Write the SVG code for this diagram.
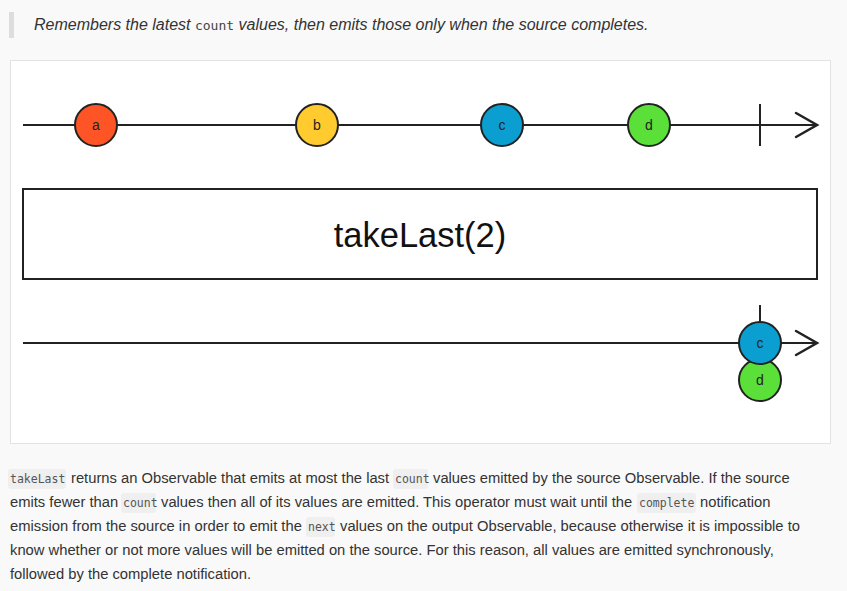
<svg xmlns="http://www.w3.org/2000/svg" width="847" height="591" viewBox="0 0 847 591">
<defs>
<style>
.bg{fill:#f9f9f9}
.panel{fill:#ffffff;stroke:#e2e2e2;stroke-width:1}
.line{stroke:#222;stroke-width:2;fill:none}
.arrow{stroke:#222;stroke-width:2.5;fill:none;stroke-linecap:round;stroke-linejoin:miter}
.marble{stroke:#222;stroke-width:2}
.ml{font-family:"Liberation Sans",Arial,sans-serif;font-size:14px;fill:#222;text-anchor:middle}
.op{font-family:"Liberation Sans",Arial,sans-serif;font-size:34.5px;fill:#111;text-anchor:middle}
.quote{font-family:"Liberation Sans",Arial,sans-serif;font-size:16px;font-style:italic;fill:#333}
.qcode{font-family:"DejaVu Sans Mono","Liberation Mono",monospace;font-size:13px;font-style:normal;fill:#444}
.body{font-family:"Liberation Sans",Arial,sans-serif;font-size:14.75px;fill:#333}
.code{font-family:"DejaVu Sans Mono","Liberation Mono",monospace;font-size:11.5px;fill:#555}
.cbg{fill:#efefef}
</style>
</defs>
<rect class="bg" x="0" y="0" width="847" height="591"/>
<rect x="9" y="12" width="5" height="26" fill="#dddddd"/>
<text class="quote" x="34" y="30">Remembers the latest <tspan class="qcode">count</tspan> values, then emits those only when the source completes.</text>
<rect class="panel" x="10.5" y="60.5" width="820" height="383"/>
<g id="connectors">
<line class="line" x1="23" y1="125" x2="817" y2="125"/>
<polyline class="arrow" points="796,113 817,125 796,137"/>
<line class="line" x1="760" y1="104" x2="760" y2="146" stroke-width="2.5"/>
<line class="line" x1="23" y1="343" x2="817" y2="343"/>
<polyline class="arrow" points="796,331 817,343 796,355"/>
<line class="line" x1="760" y1="305" x2="760" y2="325" stroke-width="2.5"/>
</g>
<g id="marble-a"><circle class="marble" cx="96" cy="125" r="21" fill="#ff5526"/><text class="ml" x="96" y="130">a</text></g>
<g id="marble-b"><circle class="marble" cx="317" cy="125" r="21" fill="#ffcb2f"/><text class="ml" x="317" y="130">b</text></g>
<g id="marble-c"><circle class="marble" cx="502" cy="125" r="21" fill="#0a9fd0"/><text class="ml" x="502" y="130">c</text></g>
<g id="marble-d"><circle class="marble" cx="649" cy="125" r="21" fill="#5ae038"/><text class="ml" x="649" y="130">d</text></g>
<g id="operator"><rect x="23" y="189" width="794" height="90" fill="#fff" stroke="#222" stroke-width="2"/><text class="op" x="420" y="247">takeLast(2)</text></g>
<g id="out-d"><circle class="marble" cx="760" cy="380" r="21" fill="#5ae038"/><text class="ml" x="760" y="385">d</text></g>
<g id="out-c"><circle class="marble" cx="760" cy="343" r="21" fill="#0a9fd0"/><text class="ml" x="760" y="348">c</text></g>
<g id="description">
<rect class="cbg" x="8" y="469" width="58" height="20" rx="3"/>
<rect class="cbg" x="393" y="469" width="35" height="20" rx="3"/>
<rect class="cbg" x="121" y="493" width="35" height="20" rx="3"/>
<rect class="cbg" x="637" y="493" width="59" height="20" rx="3"/>
<rect class="cbg" x="306" y="517" width="29" height="20" rx="3"/>
<text class="body" y="483"><tspan class="code" x="10">takeLast</tspan><tspan x="71">returns an Observable that emits at most the last</tspan><tspan class="code" x="395">count</tspan><tspan x="433">values emitted by the source Observable. If the source</tspan></text>
<text class="body" y="507"><tspan x="10">emits fewer than</tspan><tspan class="code" x="123">count</tspan><tspan x="161">values then all of its values are emitted. This operator must wait until the</tspan><tspan class="code" x="639">complete</tspan><tspan x="700">notification</tspan></text>
<text class="body" y="531"><tspan x="10">emission from the source in order to emit the</tspan><tspan class="code" x="308">next</tspan><tspan x="340">values on the output Observable, because otherwise it is impossible to</tspan></text>
<text class="body" x="10" y="555">know whether or not more values will be emitted on the source. For this reason, all values are emitted synchronously,</text>
<text class="body" x="10" y="579">followed by the complete notification.</text>
</g>
</svg>
